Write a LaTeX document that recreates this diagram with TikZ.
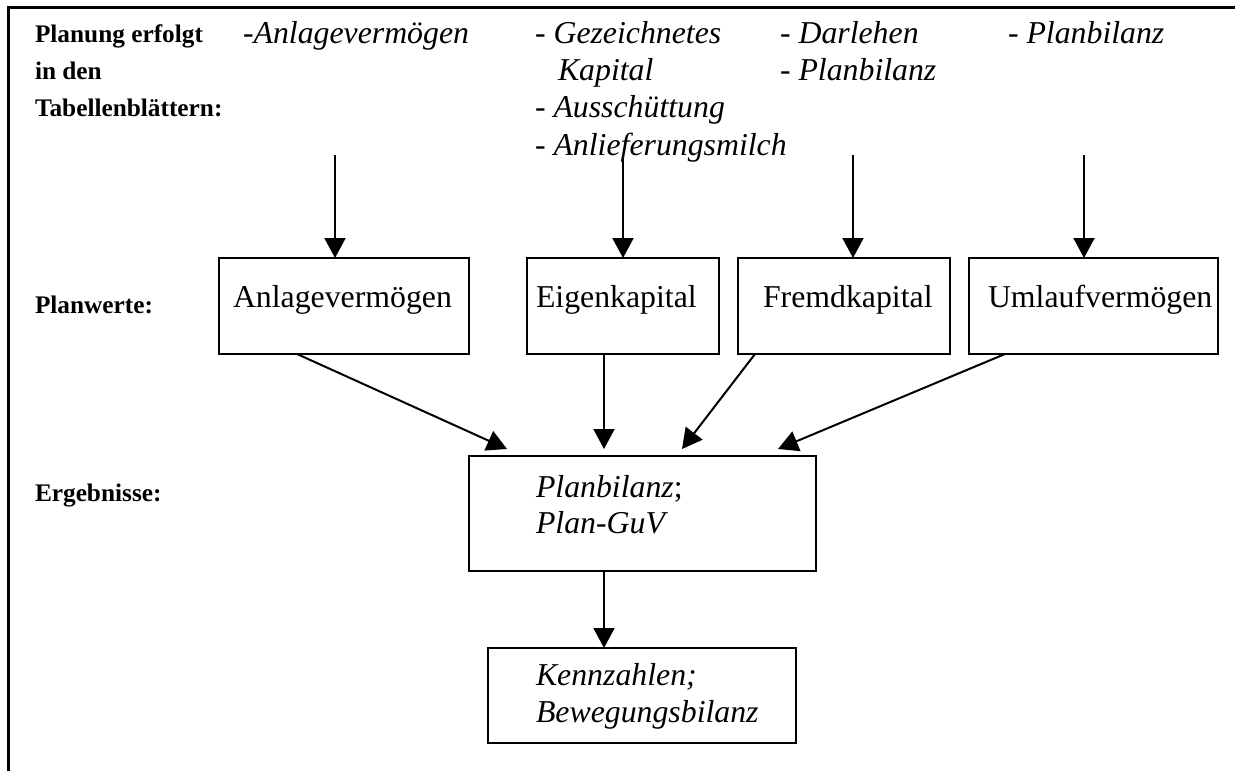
\documentclass[tikz,border=0pt]{standalone}
\usepackage{fontspec}
\setmainfont{Liberation Serif}
\usetikzlibrary{arrows.meta,calc}
\begin{document}
\begin{tikzpicture}[x=1pt,y=-1pt,
  every node/.style={inner sep=0pt,outer sep=0pt},
  lbl/.style={anchor=base west,font=\fontsize{25.3}{27}\selectfont\bfseries},
  itx/.style={anchor=base west,font=\fontsize{31.8}{37}\selectfont\itshape},
  rtx/.style={anchor=base west,font=\fontsize{31.8}{37}\selectfont},
  box/.style={draw,line width=2pt,anchor=north west},
  arr/.style={line width=2pt,-{Triangle[length=20pt,width=21pt]}},
  frame/.style={line width=3pt}]
\useasboundingbox (0,0) rectangle (1235,771);
% frame
\coordinate (fa) at (8,771);
\coordinate (fb) at (8,7);
\coordinate (fc) at (1235,7);
\draw[frame] (fa) -- (fb) -- (fc);
% left labels
\node[lbl] (l1) at (35,42) {Planung erfolgt};
\node[lbl] (l2) at (35,79) {in den};
\node[lbl] (l3) at (35,116) {Tabellenblättern:};
\node[lbl] (l4) at (35,313) {Planwerte:};
\node[lbl] (l5) at (35,501) {Ergebnisse:};
% sheet lists
\node[itx] (s1) at (243,43) {-Anlagevermögen};
\node[itx] (s2) at (535,43) {- Gezeichnetes};
\node[itx] (s3) at (558,80) {Kapital};
\node[itx] (s4) at (535,117) {- Ausschüttung};
\node[itx] (s5) at (535,155) {- Anlieferungsmilch};
\node[itx] (s6) at (780,43) {- Darlehen};
\node[itx] (s7) at (780,80) {- Planbilanz};
\node[itx] (s8) at (1008,43) {- Planbilanz};
% boxes
\node[box,minimum width=250pt,minimum height=96pt] (av) at (219,258) {};
\node[box,minimum width=192pt,minimum height=96pt] (ek) at (527,258) {};
\node[box,minimum width=212pt,minimum height=96pt] (fk) at (738,258) {};
\node[box,minimum width=249pt,minimum height=96pt] (uv) at (969,258) {};
\node[box,minimum width=347pt,minimum height=115pt] (pb) at (469,456) {};
\node[box,minimum width=308pt,minimum height=95pt] (kz) at (488,648) {};
% box texts
\node[rtx] (tav) at (233,307) {Anlagevermögen};
\node[rtx] (tek) at (536,307) {Eigenkapital};
\node[rtx] (tfk) at (763,307) {Fremdkapital};
\node[rtx] (tuv) at (988,307) {Umlaufvermögen};
\node[rtx] (tpb1) at (536,497) {\textit{Planbilanz};};
\node[itx] (tpb2) at (536,533) {Plan-GuV};
\node[itx] (tkz1) at (536,685) {Kennzahlen;};
\node[itx] (tkz2) at (536,722) {Bewegungsbilanz};
% top arrows
\coordinate (a1) at (335,155);
\coordinate (a2) at (623,158);
\coordinate (a3) at (853,155);
\coordinate (a4) at (1084,155);
\draw[arr] (a1) -- (a1 |- av.north);
\draw[arr] (a2) -- (a2 |- ek.north);
\draw[arr] (a3) -- (a3 |- fk.north);
\draw[arr] (a4) -- (a4 |- uv.north);
% arrows to Planbilanz
\draw[arr] ([xshift=78pt]av.south west) -- ([xshift=38pt,yshift=7pt]pb.north west);
\draw[arr] ([xshift=77pt]ek.south west) -- ([xshift=135pt,yshift=7pt]pb.north west);
\draw[arr] ([xshift=17pt]fk.south west) -- ([xshift=213pt,yshift=7pt]pb.north west);
\draw[arr] ([xshift=36pt]uv.south west) -- ([xshift=309pt,yshift=7pt]pb.north west);
% arrow to Kennzahlen
\draw[arr] ([xshift=135pt]pb.south west) -- ([xshift=116pt]kz.north west);
\end{tikzpicture}
\end{document}
